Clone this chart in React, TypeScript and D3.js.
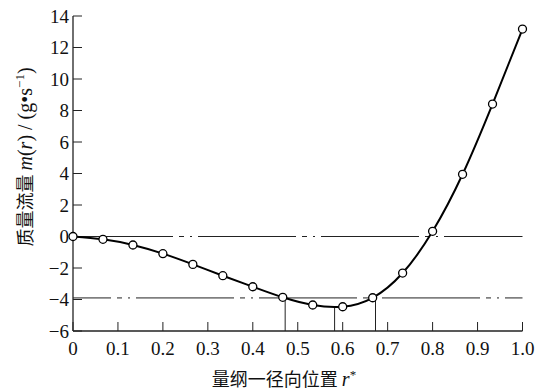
import React from "react";
import * as d3 from "d3";

const xValues = [0, 1 / 15, 2 / 15, 3 / 15, 4 / 15, 5 / 15, 6 / 15, 7 / 15, 8 / 15, 9 / 15, 10 / 15, 11 / 15, 12 / 15, 13 / 15, 14 / 15, 1];
const massFlow = [0, -0.18, -0.54, -1.09, -1.77, -2.49, -3.19, -3.86, -4.35, -4.46, -3.89, -2.32, 0.33, 3.95, 8.41, 13.17];
const xTicks = [0, 0.1, 0.2, 0.3, 0.4, 0.5, 0.6, 0.7, 0.8, 0.9, 1.0];
const xTickLabels = ["0", "0.1", "0.2", "0.3", "0.4", "0.5", "0.6", "0.7", "0.8", "0.9", "1.0"];
const yTicks = [-6, -4, -2, 0, 2, 4, 6, 8, 10, 12, 14];
const refLevels = [0, -3.9];
const dropX = [0.472, 0.582, 0.673];
const dropTop = [-3.9, -4.48, -3.9];

const W = 537;
const H = 390;

const SERIF = "Liberation Serif, DejaVu Serif, serif";
const CJK = "Noto Sans CJK SC, sans-serif";

export default function App() {
  const x = d3.scaleLinear().domain([0, 1]).range([73, 522.5]);
  const y = d3.scaleLinear().domain([-6, 14]).range([331, 16]);
  const pts = xValues.map((v, i) => [v, massFlow[i]] as [number, number]);
  const line = d3
    .line<[number, number]>()
    .x((d) => x(d[0]))
    .y((d) => y(d[1]))
    .curve(d3.curveNatural);
  return (
    <svg
      width={W}
      height={H}
      style={{ position: "absolute", left: 0, top: 0, background: "#fff" }}
    >
      <rect width={W} height={H} fill="#fff" />
      {refLevels.map((v, i) => (
        <line
          key={"r" + i}
          x1={x(0)}
          x2={x(1)}
          y1={y(v)}
          y2={y(v)}
          stroke="#222"
          strokeWidth={1}
          strokeDasharray="98,6,5,6,2,6"
          strokeDashoffset={i === 0 ? -2 : 60}
        />
      ))}
      {dropX.map((v, i) => (
        <line
          key={"d" + i}
          x1={x(v)}
          x2={x(v)}
          y1={y(dropTop[i])}
          y2={y(-6)}
          stroke="#222"
          strokeWidth={1}
        />
      ))}
      <line x1={x(0)} x2={x(1)} y1={y(-6)} y2={y(-6)} stroke="#222" strokeWidth={1.3} />
      <line x1={x(0)} x2={x(0)} y1={y(-6)} y2={y(14)} stroke="#222" strokeWidth={1.3} />
      {xTicks.map((t, i) => (
        <g key={"xt" + i}>
          <line x1={x(t)} x2={x(t)} y1={y(-6)} y2={y(-6) - 9} stroke="#222" strokeWidth={1} />
          <text
            x={x(t)}
            y={355}
            textAnchor="middle"
            fontFamily={SERIF}
            fontSize={19}
            fill="#111"
          >
            {xTickLabels[i]}
          </text>
        </g>
      ))}
      {yTicks.map((t, i) => (
        <g key={"yt" + i}>
          <line x1={x(0)} x2={x(0) + 9} y1={y(t)} y2={y(t)} stroke="#222" strokeWidth={1} />
          <text
            x={69}
            y={y(t) + 6.5}
            textAnchor="end"
            fontFamily={SERIF}
            fontSize={19}
            fill="#111"
          >
            {t < 0 ? "\u2212" + Math.abs(t) : String(t)}
          </text>
        </g>
      ))}
      <path d={line(pts) || ""} fill="none" stroke="#000" strokeWidth={2} />
      {pts.map((p, i) => (
        <circle
          key={"c" + i}
          cx={x(p[0])}
          cy={y(p[1])}
          r={4}
          fill="#fff"
          stroke="#000"
          strokeWidth={1.3}
        />
      ))}
      <text x={284} y={386} textAnchor="middle" fill="#111">
        <tspan fontFamily={CJK} fontSize={18}>量纲一径向位置 </tspan>
        <tspan fontFamily={SERIF} fontSize={20} fontStyle="italic">r</tspan>
        <tspan fontFamily={SERIF} fontSize={13} dy={-7}>*</tspan>
      </text>
      <text transform="translate(32,157) rotate(-90)" textAnchor="middle" fill="#111">
        <tspan fontFamily={CJK} fontSize={18}>质量流量 </tspan>
        <tspan fontFamily={SERIF} fontSize={20} fontStyle="italic">m</tspan>
        <tspan fontFamily={SERIF} fontSize={20}>(</tspan>
        <tspan fontFamily={SERIF} fontSize={20} fontStyle="italic">r</tspan>
        <tspan fontFamily={SERIF} fontSize={20}>) / (g•s</tspan>
        <tspan fontFamily={SERIF} fontSize={13} dy={-8}>−1</tspan>
        <tspan fontFamily={SERIF} fontSize={20} dy={8}>)</tspan>
      </text>
    </svg>
  );
}
